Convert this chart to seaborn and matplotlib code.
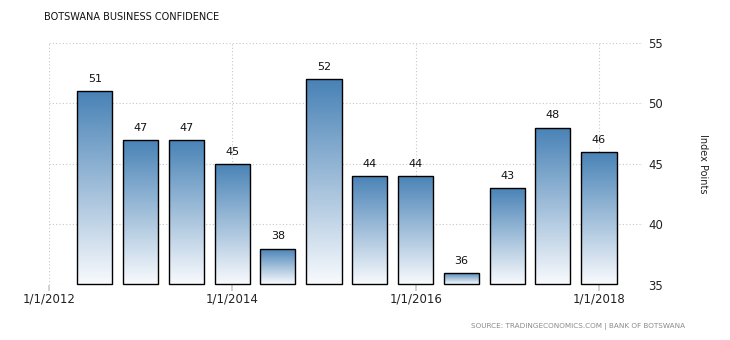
import numpy as np
import pandas as pd
import matplotlib
matplotlib.use("Agg")
import matplotlib.pyplot as plt
from matplotlib.colors import LinearSegmentedColormap
import seaborn as sns

# ---- data ----
dates = ["2012-07-01", "2013-01-01", "2013-07-01", "2014-01-01", "2014-07-01", "2015-01-01",
         "2015-07-01", "2016-01-01", "2016-07-01", "2017-01-01", "2017-07-01", "2018-01-01"]
values = [51, 47, 47, 45, 38, 52, 44, 44, 36, 43, 48, 46]
xtick_labels = ["1/1/2012", "1/1/2014", "1/1/2016", "1/1/2018"]
xtick_years = [2012, 2014, 2016, 2018]
yticks = [35, 40, 45, 50, 55]

title = "BOTSWANA BUSINESS CONFIDENCE"
source = "SOURCE: TRADINGECONOMICS.COM | BANK OF BOTSWANA"
ylabel = "Index Points"

dt = pd.to_datetime(dates)
xpos = dt.year + (dt.dayofyear - 1) / 365.0
df = pd.DataFrame({"x": np.round(xpos, 3), "value": values})

sns.set_theme(style="white")
plt.rcParams["font.family"] = ["DejaVu Sans"]

fig = plt.figure(figsize=(7.3, 3.4), dpi=100)
ax = fig.add_axes([49/730, 55/340, (643-49)/730, (285-43)/340])

sns.barplot(data=df, x="x", y="value", native_scale=True, width=0.77,
            color="#4a85b8", edgecolor="black", linewidth=1.0, ax=ax, zorder=3)

ymin = 35
cmap = LinearSegmentedColormap.from_list("g", ["#f8fafd", "#4882b6"])
grad = np.linspace(0, 1, 256).reshape(-1, 1)
for p in list(ax.patches):
    x0, w = p.get_x(), p.get_width()
    top = p.get_y() + p.get_height()
    base = ymin + 0.06
    p.set_y(base)
    p.set_height(top - base)
    p.set_facecolor("none")
    p.set_joinstyle("miter")
    p.set_clip_on(False)
    im = ax.imshow(grad, cmap=cmap, aspect="auto", origin="lower",
                   extent=[x0, x0 + w, base, top], zorder=2.5,
                   interpolation="bilinear")
    im.set_clip_path(p)
    ax.text(x0 + w / 2, top + 0.6, f"{int(round(top))}", ha="center", va="bottom",
            fontsize=8, color="#111111", zorder=4)

ax.set_xlim(2012.0, 2018.48)
ax.set_ylim(35, 55)

for s in ax.spines.values():
    s.set_visible(False)

ax.yaxis.tick_right()
ax.set_yticks(yticks)
ax.set_yticklabels([str(v) for v in yticks], fontsize=8.5, color="#222222")
ax.tick_params(axis="y", length=0, pad=4)
ax.set_xticks(xtick_years)
ax.set_xticklabels(xtick_labels, fontsize=8.5, color="#222222")
ax.tick_params(axis="x", length=4, color="#cccccc", pad=1.5, bottom=True)
ax.grid(True, linestyle=(0, (1, 2)), color="#c8c8c8", linewidth=0.8, zorder=0)
ax.set_axisbelow(True)
ax.set_xlabel("")
ax.set_ylabel(ylabel, rotation=-90, fontsize=7, labelpad=32, color="#222222")
ax.yaxis.set_label_position("right")

fig.text(44/730, 1 - 17/340, title, fontsize=7, color="#111111", va="center", ha="left",
         fontweight="medium")
fig.text(685/730, 1 - 326/340, source, fontsize=5.2, color="#8a8a8a", va="center", ha="right")

fig.savefig("out.png", dpi=100, facecolor="white")
